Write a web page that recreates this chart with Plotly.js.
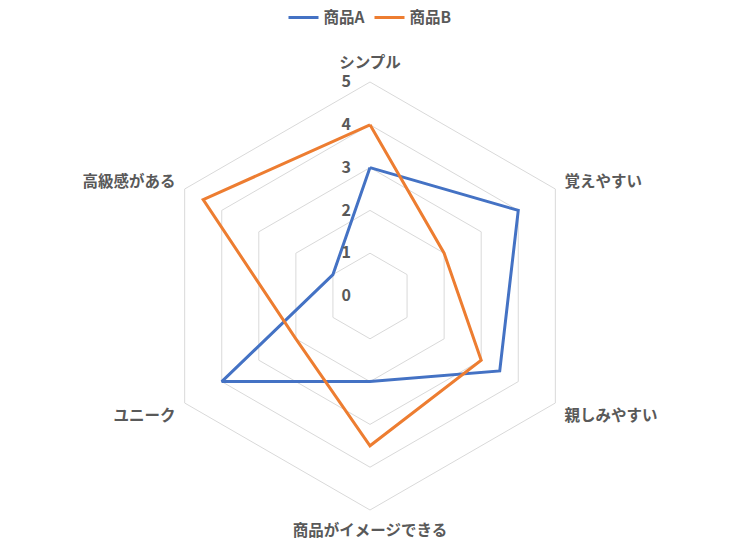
<!DOCTYPE html>
<html>
<head>
<meta charset="utf-8">
<script src="https://cdn.plot.ly/plotly-3.0.1.min.js"></script>
<style>html,body{margin:0;padding:0;background:#fff;}#chart{width:740px;height:555px;}</style>
</head>
<body>
<div id="chart"></div>
<script>
var categories = ["シンプル", "覚えやすい", "親しみやすい", "商品がイメージできる", "ユニーク", "高級感がある"];
var seriesNames = ["商品A", "商品B"];
var valuesA = [3, 4, 3.5, 2, 4, 1];
var valuesB = [4, 2, 3, 3.5, 2, 4.5];
var radialTicks = [0, 1, 2, 3, 4, 5];

var FONT = '"Noto Sans CJK JP", "Noto Sans", sans-serif';
var GRAY = '#595959';

function closed(arr) { return arr.concat([arr[0]]); }

var traces = [
  {type: 'scatterpolar', name: seriesNames[0], r: closed(valuesA), theta: closed(categories),
   mode: 'lines', line: {color: '#4472C4', width: 3}},
  {type: 'scatterpolar', name: seriesNames[1], r: closed(valuesB), theta: closed(categories),
   mode: 'lines', line: {color: '#ED7D31', width: 3}}
];

var layout = {
  width: 740, height: 555,
  margin: {l: 80, r: 80, t: 82, b: 45, autoexpand: false},
  paper_bgcolor: '#fff',
  font: {family: FONT, color: GRAY, size: 15.5, weight: 'bold'},
  showlegend: true,
  legend: {orientation: 'h', x: 0.5, xanchor: 'center', y: 1.15, yanchor: 'middle',
           font: {family: FONT, size: 15.5, color: GRAY, weight: 'bold'}},
  polar: {
    gridshape: 'linear',
    bgcolor: 'rgba(0,0,0,0)',
    domain: {x: [0, 1], y: [0, 1]},
    radialaxis: {
      range: [0, 5], tickvals: radialTicks, ticktext: radialTicks.map(String),
      angle: 90, side: 'counterclockwise', tickangle: 90,
      showline: false, ticks: 'outside', ticklen: 13, tickcolor: 'rgba(0,0,0,0)',
      gridcolor: '#d9d9d9', gridwidth: 1,
      tickfont: {family: FONT, size: 16, color: GRAY, weight: 'bold'}
    },
    angularaxis: {
      direction: 'clockwise', rotation: 90, type: 'category',
      showgrid: false, showline: true, linecolor: '#d9d9d9', linewidth: 1,
      ticks: 'outside', ticklen: 7, tickcolor: 'rgba(0,0,0,0)',
      tickfont: {family: FONT, size: 15.5, color: GRAY, weight: 'bold'}
    }
  }
};

Plotly.newPlot('chart', traces, layout, {displayModeBar: false, staticPlot: true});
</script>
</body>
</html>
